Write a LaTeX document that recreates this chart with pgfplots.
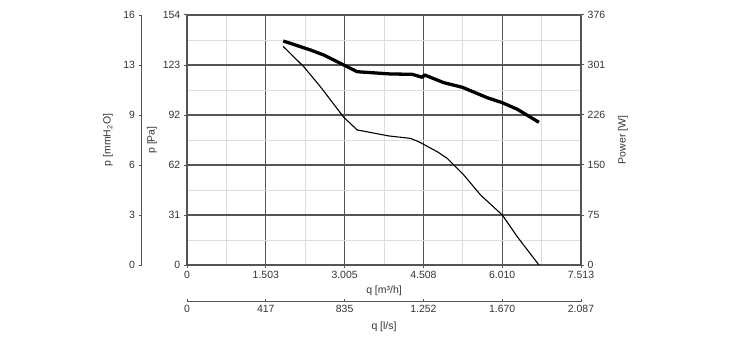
\documentclass[border=0pt]{standalone}
\usepackage{fontspec}
\setmainfont{Liberation Sans}
\usepackage{pgfplots}
\pgfplotsset{compat=1.18}
\definecolor{axgray}{HTML}{555555}
\definecolor{mingray}{HTML}{DDDDDD}
\definecolor{txt}{HTML}{333333}
\begin{document}
\fontsize{10.5}{12}\selectfont
\begin{tikzpicture}
\useasboundingbox (0,0) rectangle (730bp,340bp);
\pgfplotsset{every axis/.append style={scale only axis, width=394bp, height=250bp, anchor=south west,
  font=\fontsize{10.5}{12}\selectfont, tick label style={txt},
  axis line style={-, axgray, line width=1.2pt}, major tick length=3bp, minor tick length=0pt,
  tick style={axgray, line width=1pt}}}
% main pressure axis
\begin{axis}[at={(187bp,75bp)}, xmin=0, xmax=7.513, ymin=0, ymax=154,
  xtick={0,1.5026,3.0052,4.5078,6.0104,7.513}, xticklabels={0,1.503,3.005,4.508,6.010,7.513},
  minor xtick={0.7513,2.2539,3.7565,5.2591,6.7617},
  ytick={0,30.8,61.6,92.4,123.2,154}, yticklabels={0,31,62,92,123,154},
  minor ytick={15.4,46.2,77,107.8,138.6},
  grid=both, major grid style={axgray, line width=1.2pt}, minor grid style={mingray, line width=1pt},
  tick align=outside, tick pos=left]
\addplot[black, line width=1.1pt, line join=round] coordinates {
(1.835,134.6) (2.225,122.2) (2.544,109.8) (2.989,91.0) (3.245,83.2) (3.848,79.5) (4.262,78.0) (4.420,75.9)
(4.771,69.8) (4.962,65.7) (5.279,55.4) (5.598,43.1) (6.012,30.8) (6.298,17.4) (6.711,0)};
\end{axis}
% power axis
\begin{axis}[at={(187bp,75bp)}, xmin=0, xmax=7.513, ymin=0, ymax=376,
  axis x line=none, axis y line*=right, tick align=outside, xtick=\empty,
  ytick={0,75.2,150.4,225.6,300.8,376}, yticklabels={0,75,150,226,301,376}]
\addplot[black, line width=3.3pt, line join=round] coordinates {
(1.835,336.9) (2.353,323.4) (2.608,315.8) (2.989,300.8) (3.245,290.7) (3.880,287.3) (4.294,286.8)
(4.485,282.3) (4.529,285.8) (4.897,274.2) (5.249,267.3) (5.726,251.6) (6.012,244.1) (6.298,234.2) (6.711,214.6)};
\end{axis}
% mmH2O axis
\begin{axis}[at={(141.7bp,75bp)}, width=10bp, xmin=0, xmax=1, ymin=0, ymax=5,
  axis x line=none, axis y line*=left, tick align=outside, xtick=\empty,
  ytick={0,1,2,3,4,5}, yticklabels={0,3,6,9,13,16}, clip=false]
\addplot[draw=none] coordinates {(0,0)};
\end{axis}
\draw[axgray, line width=1.4pt] (141.7bp,75bp) -- (141.7bp,325bp);
% l/s axis
\begin{axis}[at={(187bp,38.3bp)}, height=1bp, xmin=0, xmax=2.087, ymin=0, ymax=1,
  axis y line=none, axis x line*=bottom, tick align=inside, ytick=\empty,
  xtick={0,0.4174,0.8348,1.2522,1.6696,2.087}, xticklabels={0,417,835,1.252,1.670,2.087}]
\addplot[draw=none] coordinates {(0,0)};
\end{axis}
\node[rotate=90, text=txt] at (108bp,200bp) {p [mmH\textsubscript{2}O]};
\node[rotate=90, text=txt] at (152bp,200bp) {p [Pa]};
\node[rotate=90, text=txt] at (623bp,200bp) {Power [W]};
\node[text=txt] at (384bp,49bp) {q [m³/h]};
\node[text=txt] at (384bp,13bp) {q [l/s]};
\end{tikzpicture}
\end{document}
